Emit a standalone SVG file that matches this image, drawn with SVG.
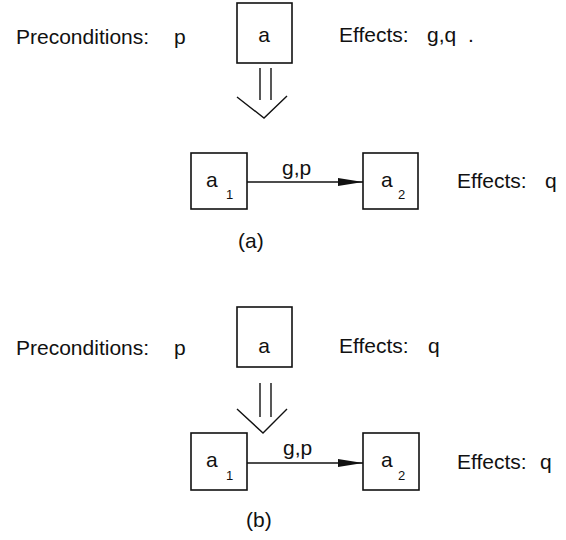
<svg xmlns="http://www.w3.org/2000/svg" width="566" height="540" viewBox="0 0 566 540">
<style>
text{font-family:"Liberation Sans",Arial,sans-serif;fill:#111;font-size:21px}
.s{font-size:13px}
.box{fill:#fff;stroke:#111;stroke-width:1.6}
.ln{fill:none;stroke:#111;stroke-width:1.4}
</style>
<defs>
<marker id="ah" markerWidth="26" markerHeight="10" refX="25" refY="5" orient="auto" markerUnits="userSpaceOnUse">
<path d="M0,1 L25,5 L0,9 Z" fill="#111"/>
</marker>
</defs>
<rect width="566" height="540" fill="#fff"/>
<g id="labels-a">
<text x="16" y="44">Preconditions:<tspan x="174">p</tspan></text>
<text x="339" y="42">Effects:<tspan x="427">g,q</tspan><tspan x="468">.</tspan></text>
<text x="457" y="188">Effects:<tspan x="545">q</tspan></text>
<text x="238" y="248">(a)</text>
</g>
<g id="node-a-top">
<rect class="box" x="237" y="3" width="55" height="60"/>
<text x="264" y="42" text-anchor="middle">a</text>
</g>
<g id="node-a1-top">
<rect class="box" x="191" y="153" width="56" height="56"/>
<text x="206" y="187">a</text>
<text class="s" x="226" y="199">1</text>
</g>
<g id="node-a2-top">
<rect class="box" x="363" y="153" width="55" height="56"/>
<text x="381" y="187">a</text>
<text class="s" x="398" y="199">2</text>
</g>
<g id="labels-b">
<text x="16" y="355">Preconditions:<tspan x="174">p</tspan></text>
<text x="339" y="353">Effects:<tspan x="428">q</tspan></text>
<text x="457" y="469">Effects:<tspan x="540">q</tspan></text>
<text x="246" y="527">(b)</text>
</g>
<g id="node-a-bottom">
<rect class="box" x="237" y="307" width="55" height="60"/>
<text x="264" y="353" text-anchor="middle">a</text>
</g>
<g id="node-a1-bottom">
<rect class="box" x="191" y="433" width="56" height="57"/>
<text x="206" y="467">a</text>
<text class="s" x="226" y="480">1</text>
</g>
<g id="node-a2-bottom">
<rect class="box" x="363" y="433" width="56" height="57"/>
<text x="381" y="467">a</text>
<text class="s" x="398" y="480">2</text>
</g>
<g id="connectors">
<line class="ln" x1="260" y1="68" x2="260" y2="100"/>
<line class="ln" x1="271" y1="68" x2="271" y2="100"/>
<polyline class="ln" points="237,97 264,118 287,96"/>
<line class="ln" x1="247" y1="182" x2="363" y2="182" marker-end="url(#ah)"/>
<text x="282" y="175">g,p</text>
<line class="ln" x1="260" y1="383" x2="260" y2="417"/>
<line class="ln" x1="271" y1="383" x2="271" y2="417"/>
<polyline class="ln" points="237,409 263,433 287,409"/>
<line class="ln" x1="247" y1="463" x2="363" y2="463" marker-end="url(#ah)"/>
<text x="283" y="455">g,p</text>
</g>
</svg>
